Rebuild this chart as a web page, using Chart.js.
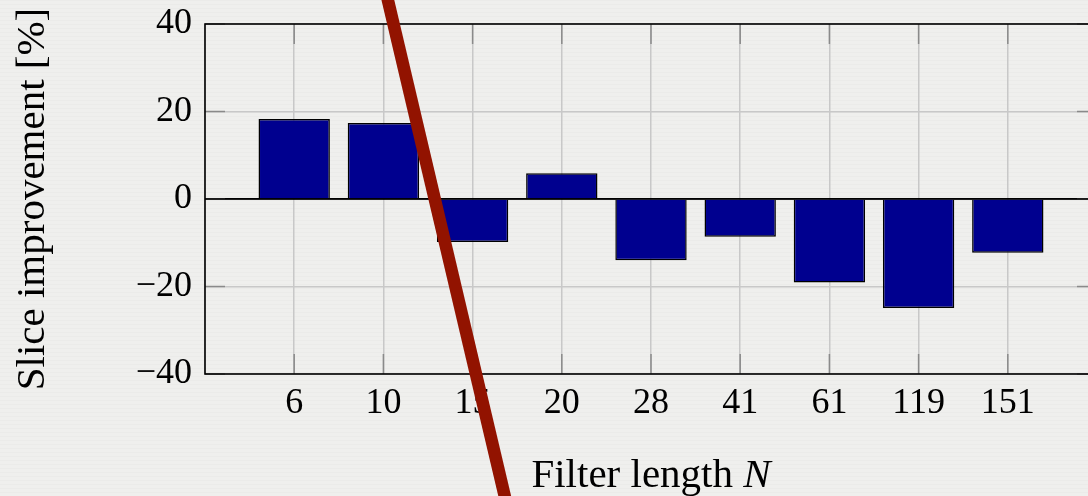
<!DOCTYPE html>
<html>
<head>
<meta charset="utf-8">
<script src="https://cdn.jsdelivr.net/npm/chart.js@4.4.1/dist/chart.umd.min.js"></script>
<style>
  html, body { margin: 0; padding: 0; overflow: hidden; }
  body {
    width: 1088px; height: 496px;
    background: #eeeeec repeating-linear-gradient(0deg, #efefed 0px, #efefed 3px, #ebebe9 3px, #ebebe9 4px);
  }
  #wrap { width: 1110px; height: 496px; }
</style>
</head>
<body>
<div id="wrap"><canvas id="bars-chart" width="1110" height="496"></canvas></div>
<script>
// valores
const filterLengths = ['6', '10', '15', '20', '28', '41', '61', '119', '151'];
const sliceImprovement = [18.3, 17.4, -9.8, 5.9, -14.0, -8.6, -19.1, -24.9, -12.3];
const yTicks = [-40, -20, 0, 20, 40];

// traço vermelho por cima (em unidades de dados: índice x, valor y)
const strikeX = [1.94, 3.50];
const strikeY = [55, -80];

// eixo com uma categoria vazia em cada ponta (como enlarge x limits)
const labels = [''].concat(filterLengths, ['']);
const values = [null].concat(sliceImprovement, [null]);

const serif = "'Liberation Serif', 'DejaVu Serif', serif";

// moldura + marcas de escala internas (estilo pgfplots)
const frameLines = {
    id: 'frameLines',
    beforeDatasetsDraw(chart) {
        const { ctx, chartArea: a, scales } = chart;
        ctx.save();
        ctx.strokeStyle = '#8a8a8a';
        ctx.lineWidth = 1.5;
        for (let i = 1; i < labels.length - 1; i++) {
            const x = scales.x.getPixelForValue(i);
            ctx.beginPath();
            ctx.moveTo(x, a.top); ctx.lineTo(x, a.top + 20);
            ctx.moveTo(x, a.bottom); ctx.lineTo(x, a.bottom - 20);
            ctx.stroke();
        }
        yTicks.forEach(v => {
            const y = scales.y.getPixelForValue(v);
            ctx.beginPath();
            ctx.moveTo(a.left, y); ctx.lineTo(a.left + 20, y);
            ctx.moveTo(a.right, y); ctx.lineTo(a.right - 20, y);
            ctx.stroke();
        });
        ctx.strokeStyle = '#000';
        ctx.lineWidth = 1.6;
        const y0 = scales.y.getPixelForValue(0);
        ctx.beginPath();
        ctx.moveTo(a.left, y0); ctx.lineTo(a.right, y0);
        ctx.stroke();
        ctx.strokeRect(a.left, a.top, a.right - a.left, a.bottom - a.top);
        ctx.restore();
    }
};

// título do eixo x com N em itálico
const xTitle = {
    id: 'xTitle',
    afterDraw(chart) {
        const { ctx, chartArea: a } = chart;
        const part1 = 'Filter length ';
        const part2 = 'N';
        ctx.save();
        ctx.fillStyle = '#000';
        ctx.textBaseline = 'alphabetic';
        ctx.font = '41px ' + serif;
        const w1 = ctx.measureText(part1).width;
        ctx.font = 'italic 41px ' + serif;
        const w2 = ctx.measureText(part2).width;
        const x0 = (a.left + a.right) / 2 - (w1 + w2) / 2;
        ctx.font = '41px ' + serif;
        ctx.fillText(part1, x0, 487);
        ctx.font = 'italic 41px ' + serif;
        ctx.fillText(part2, x0 + w1, 487);
        ctx.restore();
    }
};

let chart;
function initializeChart() {
    const ctx = document.getElementById('bars-chart').getContext('2d');
    chart = new Chart(ctx, {
        data: {
            labels: labels,
            datasets: [{
                type: 'line',
                data: strikeX.map((x, i) => ({ x: x, y: strikeY[i] })),
                xAxisID: 'xs',
                borderColor: '#921300',
                borderWidth: 12.5,
                pointRadius: 0,
                clip: false,
                order: 0
            }, {
                type: 'bar',
                data: values,
                backgroundColor: '#00008f',
                borderColor: '#000',
                borderWidth: 1.5,
                grouped: false,
                barPercentage: 0.8,
                categoryPercentage: 1,
                order: 1
            }]
        },
        options: {
            responsive: false,
            animation: false,
            layout: { padding: { top: 24, right: 13, bottom: 0, left: 0 } },
            plugins: { legend: { display: false }, tooltip: { enabled: false } },
            scales: {
                x: {
                    type: 'category',
                    offset: false,
                    grid: { offset: false, color: '#c8c8c8', lineWidth: 1.5, drawTicks: false },
                    border: { display: false },
                    ticks: { color: '#000', font: { family: serif, size: 36 }, padding: 8, maxRotation: 0, autoSkip: false },
                    afterFit: s => { s.height = 122; s.paddingLeft = 0; s.paddingRight = 0; }
                },
                xs: {
                    type: 'linear',
                    display: false,
                    min: 0,
                    max: labels.length - 1
                },
                y: {
                    min: -40,
                    max: 40,
                    grid: {
                        color: c => (c.tick.value === 0 ? '#000' : '#c8c8c8'),
                        lineWidth: 1.5,
                        drawTicks: false
                    },
                    border: { display: false },
                    ticks: {
                        stepSize: 20,
                        color: '#000',
                        padding: 13,
                        font: { family: serif, size: 36 },
                        callback: v => (v < 0 ? '\u2212' + Math.abs(v) : String(v))
                    },
                    title: {
                        display: true,
                        text: 'Slice improvement [%]',
                        color: '#000',
                        font: { family: serif, size: 41 },
                        padding: { top: 9, bottom: 0 }
                    },
                    afterFit: s => { s.width = 205; s.paddingTop = 0; s.paddingBottom = 0; }
                }
            }
        },
        plugins: [frameLines, xTitle]
    });
}

initializeChart();
</script>
</body>
</html>
